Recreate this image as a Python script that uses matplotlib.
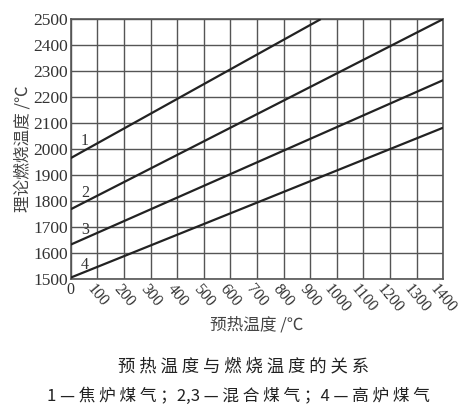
import matplotlib
matplotlib.use("Agg")
import matplotlib.pyplot as plt

# data (preheat temperature -> theoretical combustion temperature)
line_ids = ["1", "2", "3", "4"]
x_start = [0, 0, 0, 0]
x_end = [940, 1400, 1400, 1400]
y_start = [1965, 1768, 1632, 1505]
y_end = [2500, 2500, 2265, 2082]
label_x = [53, 53, 53, 53]
label_y = [2030, 1830, 1688, 1555]

x_ticks = list(range(0, 1401, 100))
y_ticks = list(range(1500, 2501, 100))

title = "预 热 温 度 与 燃 烧 温 度 的 关 系"
caption = "1 — 焦 炉 煤 气 ；2,3 — 混 合 煤 气 ；4 — 高 炉 煤 气"

serif = "Liberation Serif"
cjk = ["Noto Sans CJK SC", "DejaVu Sans"]

fig = plt.figure(figsize=(4.75, 4.15), dpi=100)
ax = fig.add_axes([0.149, 0.328, 0.784, 0.626])

for i in range(len(line_ids)):
    ax.plot([x_start[i], x_end[i]], [y_start[i], y_end[i]], color="#222222", lw=1.6,
            solid_capstyle="butt", zorder=3)
    ax.text(label_x[i], label_y[i], line_ids[i], family=serif, fontsize=11.5,
            color="#333333", ha="center", va="center", zorder=4)

ax.set_xlim(0, 1400)
ax.set_ylim(1500, 2500)
ax.set_xticks(x_ticks)
ax.set_yticks(y_ticks)
ax.grid(True, color="#555555", lw=1.0)
ax.set_axisbelow(True)
ax.tick_params(length=0, pad=2)
for s in ax.spines.values():
    s.set_color("#555555")
    s.set_linewidth(1.2)

ax.set_yticklabels([str(v) for v in y_ticks], family=serif, fontsize=12.5, color="#333333")
ax.set_xticklabels([str(v) for v in x_ticks], family=serif, fontsize=11.5, color="#333333",
                   rotation=-50, ha="center", va="top")
ax.get_xticklabels()[0].set_rotation(0)

ax.set_ylabel("理论燃烧温度 /℃", family=cjk, fontsize=12, color="#444444", labelpad=1)
ax.set_xlabel("预热温度 /℃", family=cjk, fontsize=12, color="#444444", labelpad=0)

fig.text(0.513, 0.116, title, family=cjk, fontsize=12.5, ha="center", va="center",
         color="#222222")
fig.text(0.503, 0.046, caption, family=cjk, fontsize=12, ha="center", va="center",
         color="#222222")

fig.savefig("out.png", dpi=100)
